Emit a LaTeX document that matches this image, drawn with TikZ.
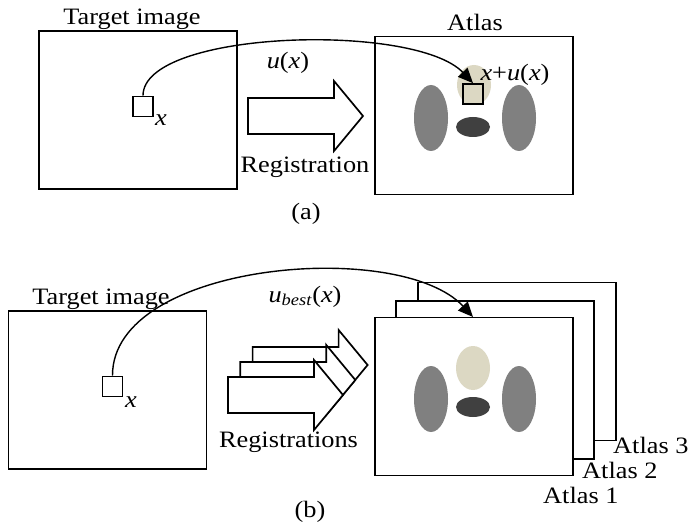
\documentclass[tikz,border=0pt]{standalone}
\usepackage{fontspec}
\setmainfont{Liberation Serif}[FakeStretch=1.12]
\usetikzlibrary{arrows.meta}
\definecolor{beige}{HTML}{DCD8C3}
\definecolor{midgray}{HTML}{808080}
\definecolor{darkgray}{HTML}{404040}
\newcommand\regpath{(0,-18) -- (86,-18) -- (86,-35) -- (115,0) -- (86,35) -- (86,18) -- (0,18) -- cycle}
\newcommand\vx{\textit{x}}
\newcommand\vu{\textit{u}}
\begin{document}
\begin{tikzpicture}[x=1pt,y=-1pt,
  box/.style={draw,line width=1.7pt,fill=white,inner sep=0pt,minimum width=198pt,minimum height=158pt},
  sq/.style={draw,line width=1.7pt,inner sep=0pt,minimum size=20pt},
  lbl/.style={inner sep=0pt,anchor=base,font=\fontsize{23.5}{28}\selectfont},
  lblw/.style={lbl,anchor=base west},
  link/.style={line width=1.4pt,-{Triangle[length=15pt,width=13pt]}},
  regarrow/.style={draw,line width=1.7pt,fill=white,line join=miter}
]
\useasboundingbox (0,0) rectangle (690,526);

% ---------- (a) ----------
\node[box] (ta) at (138,110) {};
\node[lbl] (tal) at (132,25) {Target image};
\node[sq] (sa) at (143,106.5) {};
\node[lbl] (xa) at (161,126) {\vx};

\draw[regarrow,shift={(248,116)}] \regpath;
\node[lbl] (rega) at (305,173) {Registration};
\node[lbl] (ua) at (288,69) {\vu(\vx)};

\node[box] (aa) at (474,115.5) {};
\node[lbl] (aal) at (475,31) {Atlas};
\fill[midgray] (431,118) ellipse [x radius=17pt, y radius=33pt];
\fill[midgray] (519,118) ellipse [x radius=17pt, y radius=33pt];
\fill[darkgray] (473,127) ellipse [x radius=17pt, y radius=10pt];
\fill[beige] (474,85) ellipse [x radius=17pt, y radius=20pt];
\node[sq,fill=beige] (asq) at (473,94) {};
\node[lbl] (xua) at (515,81) {\vx+\vu(\vx)};
\draw[link] (sa.north) .. controls (143,30) and (415,22) .. (asq.north);
\node[lbl] (capa) at (306,220) {(a)};

% ---------- (b) ----------
\node[box] (tb) at (107.5,390) {};
\node[lbl] (tbl) at (101,305) {Target image};
\node[sq] (sb) at (112.5,386.5) {};
\node[lbl] (xb) at (131,407) {\vx};

\draw[regarrow,shift={(252.6,365)}] \regpath;
\draw[regarrow,shift={(240.3,380)}] \regpath;
\draw[regarrow,shift={(228,395)}] \regpath;
\node[lbl] (regb) at (288.5,447) {Registrations};
\node[lbl] (ub) at (305,302) {\vu\textsubscript{\textit{best}}(\vx)};

\node[box] (a3) at (517,361.5) {};
\node[box] (a2) at (495,380) {};
\node[box] (a1) at (474,396.5) {};
\fill[midgray] (431,399) ellipse [x radius=17pt, y radius=33pt];
\fill[midgray] (519,399) ellipse [x radius=17pt, y radius=33pt];
\fill[darkgray] (473,407) ellipse [x radius=17pt, y radius=10pt];
\fill[beige] (473,368) ellipse [x radius=17pt, y radius=22pt];
\coordinate (a1top) at (473,317);
\node[lblw] (l3) at (613,453) {Atlas 3};
\node[lblw] (l2) at (582,478) {Atlas 2};
\node[lblw] (l1) at (543,503) {Atlas 1};
\draw[link] (sb.north) .. controls (112,262) and (400,238) .. (a1top);
\node[lbl] (capb) at (310,517) {(b)};
\end{tikzpicture}
\end{document}
